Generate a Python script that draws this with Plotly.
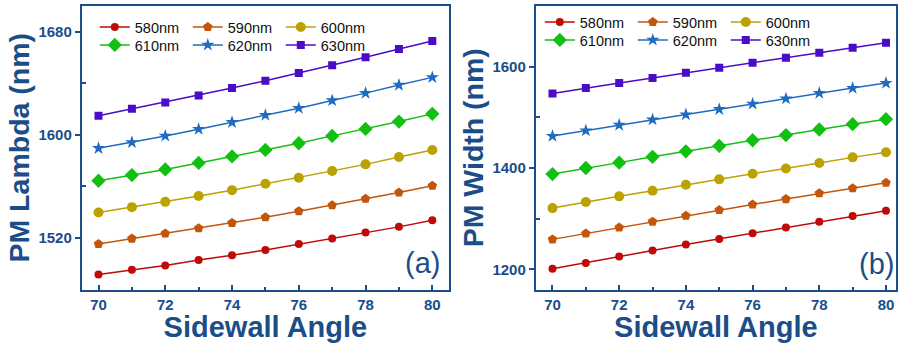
import plotly.graph_objects as go

angles = [70, 71, 72, 73, 74, 75, 76, 77, 78, 79, 80]
labels = ["580nm", "590nm", "600nm", "610nm", "620nm", "630nm"]

lambda_580 = [1491.7, 1495.3, 1498.7, 1502.9, 1506.5, 1510.7, 1515.3, 1519.5, 1524.2, 1528.6, 1533.8]
lambda_590 = [1515.3, 1519.5, 1523.4, 1527.5, 1531.7, 1536.1, 1540.8, 1545.4, 1550.4, 1555.3, 1560.5]
lambda_600 = [1539.7, 1543.9, 1548.0, 1552.5, 1557.1, 1562.1, 1566.7, 1571.9, 1577.1, 1582.8, 1588.3]
lambda_610 = [1564.4, 1568.8, 1573.2, 1578.2, 1583.3, 1588.3, 1593.5, 1599.2, 1604.6, 1610.3, 1616.3]
lambda_620 = [1589.6, 1594.2, 1599.2, 1604.4, 1609.8, 1615.3, 1620.7, 1626.7, 1632.4, 1638.7, 1644.6]
lambda_630 = [1614.8, 1620.2, 1625.1, 1630.6, 1636.3, 1642.0, 1648.0, 1654.0, 1660.2, 1666.7, 1672.9]

width_580 = [1201, 1212.5, 1225, 1237, 1249, 1260, 1271, 1282.5, 1294, 1305, 1315.5]
width_590 = [1259, 1270.6, 1282.5, 1294, 1305.6, 1317, 1328, 1338.6, 1350, 1360, 1371]
width_600 = [1320.8, 1332.7, 1344, 1355, 1367, 1377.6, 1388.8, 1399, 1410, 1421, 1431]
width_610 = [1388, 1400, 1410.6, 1422, 1433, 1443.6, 1454.8, 1465, 1476, 1486.5, 1496.4]
width_620 = [1463, 1474, 1485, 1495.7, 1505.6, 1516, 1526.7, 1537, 1548, 1557.8, 1567.7]
width_630 = [1547, 1557.8, 1567.7, 1577.6, 1588, 1598, 1608, 1618, 1627.7, 1637.6, 1647.5]

lambda_series = [lambda_580, lambda_590, lambda_600, lambda_610, lambda_620, lambda_630]
width_series = [width_580, width_590, width_600, width_610, width_620, width_630]

colors = ["#C00A0A", "#C4560C", "#BCA200", "#12C012", "#1E6CC2", "#4A0CC6"]
symbols = ["circle", "pentagon", "circle", "diamond", "star", "square"]
sizes = [8, 10, 10, 11, 10, 8]

AX = "#1B4D89"
FONT = "Liberation Sans, Arial, sans-serif"

# legend rows: first three series on row 1, last three on row 2
legend_a = ["legend", "legend", "legend", "legend2", "legend2", "legend2"]
legend_b = ["legend3", "legend3", "legend3", "legend4", "legend4", "legend4"]

fig = go.Figure()
for i, lab in enumerate(labels):
    fig.add_trace(go.Scatter(
        x=angles, y=lambda_series[i], name=lab, mode="lines+markers",
        line=dict(color=colors[i], width=1.5),
        marker=dict(symbol=symbols[i], size=sizes[i], color=colors[i]),
        xaxis="x", yaxis="y", legend=legend_a[i]))
for i, lab in enumerate(labels):
    fig.add_trace(go.Scatter(
        x=angles, y=width_series[i], name=lab, mode="lines+markers",
        line=dict(color=colors[i], width=1.5),
        marker=dict(symbol=symbols[i], size=sizes[i], color=colors[i]),
        xaxis="x2", yaxis="y2", legend=legend_b[i]))

W, H = 898, 343

def xax(domain, rng, anchor):
    return dict(
        domain=domain, range=rng, anchor=anchor,
        showline=True, linecolor=AX, linewidth=2,
        mirror=True, ticks="inside", ticklen=5, tickwidth=1.5, tickcolor=AX,
        tickvals=[70, 72, 74, 76, 78, 80],
        minor=dict(ticks="inside", ticklen=3, tickcolor=AX, tickvals=[71, 73, 75, 77, 79]),
        showgrid=False, zeroline=False,
        tickfont=dict(family=FONT, size=15, color=AX, weight="bold"),
        title=dict(text="Sidewall Angle", standoff=3,
                   font=dict(family=FONT, size=29, color=AX, weight="bold")))

def yax(anchor, rng, tv, mv, title, standoff):
    return dict(
        anchor=anchor, domain=[1 - 289.5 / H, 1 - 6 / H], range=rng,
        showline=True, linecolor=AX, linewidth=2, mirror=True,
        ticks="outside", ticklen=5, tickwidth=1.5, tickcolor=AX, tickvals=tv,
        minor=dict(ticks="inside", ticklen=4, tickcolor=AX, tickvals=mv),
        showgrid=False, zeroline=False,
        tickfont=dict(family=FONT, size=15, color=AX, weight="bold"),
        title=dict(text=title, standoff=standoff,
                   font=dict(family=FONT, size=28.5, color=AX, weight="bold")))

def leg(x, y):
    return dict(orientation="h", bgcolor="rgba(0,0,0,0)", borderwidth=0,
                font=dict(family=FONT, size=14.5, color="#111111"),
                xanchor="left", yanchor="middle", x=x / W, y=1 - y / H,
                entrywidth=48, entrywidthmode="pixels")

fig.update_layout(
    width=W, height=H, margin=dict(l=0, r=0, t=0, b=0),
    paper_bgcolor="white", plot_bgcolor="white", showlegend=True,
    xaxis=xax([82 / W, 450 / W], [69.5, 80.5], "y"),
    yaxis=yax("x", [1480, 1700], [1520, 1600, 1680], [1560, 1640], "PM Lambda (nm)", 0),
    xaxis2=xax([537 / W, 1.0], [69.5, 80.3], "y2"),
    yaxis2=yax("x2", [1160, 1720], [1200, 1400, 1600], [1300, 1500], "PM Width (nm)", 0),
    legend=leg(95, 27),
    legend2=leg(95, 45),
    legend3=leg(541, 22),
    legend4=leg(541, 40),
    annotations=[
        dict(text="(a)", xref="paper", yref="paper", x=423 / W, y=1 - 263 / H,
             xanchor="center", yanchor="middle", showarrow=False,
             font=dict(family=FONT, size=29, color=AX)),
        dict(text="(b)", xref="paper", yref="paper", x=878 / W, y=1 - 264 / H,
             xanchor="center", yanchor="middle", showarrow=False,
             font=dict(family=FONT, size=29, color=AX)),
    ],
)

fig.write_html("out.html")
